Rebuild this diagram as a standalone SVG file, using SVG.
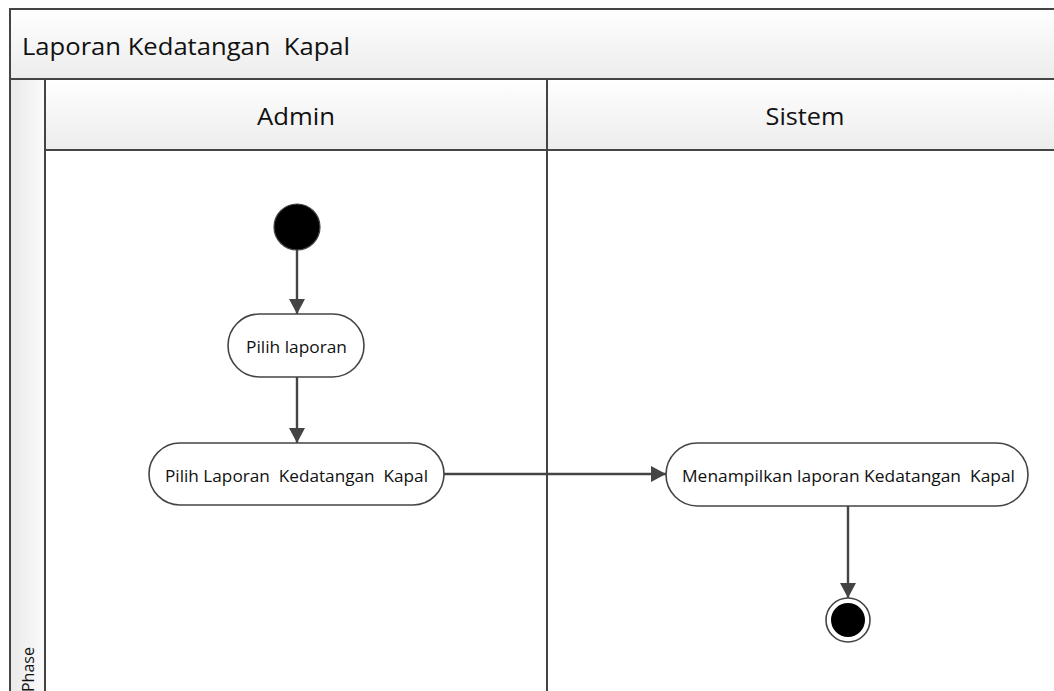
<svg xmlns="http://www.w3.org/2000/svg" width="1054" height="691" viewBox="0 0 1054 691">
  <style>
    .band { stroke: #444; stroke-width: 2; }
    .lane { fill: #ffffff; stroke: #444; stroke-width: 2; }
    .txt { font-family: "Open Sans", "Liberation Sans", sans-serif; fill: #111; white-space: pre; }
    .act { fill: #ffffff; stroke: #444; stroke-width: 1.6; }
    .edge { fill: none; stroke: #444; stroke-width: 2.4; }
  </style>
  <defs>
    <linearGradient id="hdr" x1="0" y1="0" x2="0" y2="1">
      <stop offset="0" stop-color="#ffffff"/>
      <stop offset="1" stop-color="#ececec"/>
    </linearGradient>
    <linearGradient id="side" x1="0" y1="0" x2="1" y2="0">
      <stop offset="0" stop-color="#e9e9e9"/>
      <stop offset="1" stop-color="#fbfbfb"/>
    </linearGradient>
    <marker id="arrow" viewBox="0 0 15 16" refX="15" refY="8" markerWidth="15" markerHeight="16" markerUnits="userSpaceOnUse" orient="auto">
      <path d="M0,0 L15,8 L0,16 Z" fill="#444"/>
    </marker>
  </defs>

  <rect width="1054" height="691" fill="#ffffff"/>

  <!-- swimlane frame -->
  <g id="pool">
    <rect class="band" x="10" y="9" width="1060" height="70" fill="url(#hdr)"/>
    <text class="txt" x="22" y="55" font-size="24" textLength="328" lengthAdjust="spacingAndGlyphs" xml:space="preserve">Laporan Kedatangan  Kapal</text>
    <rect class="band" x="10" y="79" width="35" height="630" fill="url(#side)"/>
    <text class="txt" font-size="16" transform="translate(34,692) rotate(-90)">Phase</text>
  </g>

  <g id="lane-admin">
    <rect class="lane" x="45" y="150" width="502" height="560"/>
    <rect class="band" x="45" y="79" width="502" height="71" fill="url(#hdr)"/>
    <text class="txt" x="296" y="125" font-size="24" text-anchor="middle" textLength="78" lengthAdjust="spacingAndGlyphs">Admin</text>
  </g>

  <g id="lane-sistem">
    <rect class="lane" x="547" y="150" width="530" height="560"/>
    <rect class="band" x="547" y="79" width="530" height="71" fill="url(#hdr)"/>
    <text class="txt" x="805" y="125" font-size="24" text-anchor="middle" textLength="79" lengthAdjust="spacingAndGlyphs">Sistem</text>
  </g>

  <!-- connectors -->
  <g id="connectors">
    <line class="edge" x1="297" y1="250" x2="297" y2="314" marker-end="url(#arrow)"/>
    <line class="edge" x1="297" y1="377" x2="297" y2="443" marker-end="url(#arrow)"/>
    <line class="edge" x1="444" y1="474" x2="666" y2="474" marker-end="url(#arrow)"/>
    <line class="edge" x1="848" y1="506" x2="848" y2="598" marker-end="url(#arrow)"/>
  </g>

  <g id="start">
    <circle cx="297" cy="227" r="23" fill="#000" stroke="#444" stroke-width="1.2"/>
  </g>

  <g id="pilih-laporan">
    <rect class="act" x="228" y="314" width="136" height="63" rx="31.5"/>
    <text class="txt" x="246" y="353" font-size="17" textLength="101" lengthAdjust="spacingAndGlyphs">Pilih laporan</text>
  </g>

  <g id="pilih-laporan-kedatangan">
    <rect class="act" x="149" y="443" width="295" height="62" rx="31"/>
    <text class="txt" x="165" y="482" font-size="17" textLength="263" lengthAdjust="spacingAndGlyphs" xml:space="preserve">Pilih Laporan  Kedatangan  Kapal</text>
  </g>

  <g id="menampilkan-laporan">
    <rect class="act" x="666" y="443" width="362" height="63" rx="31.5"/>
    <text class="txt" x="682" y="482" font-size="17" textLength="333" lengthAdjust="spacingAndGlyphs" xml:space="preserve">Menampilkan laporan Kedatangan  Kapal</text>
  </g>

  <g id="end">
    <circle cx="848" cy="620" r="22" fill="#fff" stroke="#444" stroke-width="1.6"/>
    <circle cx="848" cy="620" r="17" fill="#000"/>
  </g>
</svg>
